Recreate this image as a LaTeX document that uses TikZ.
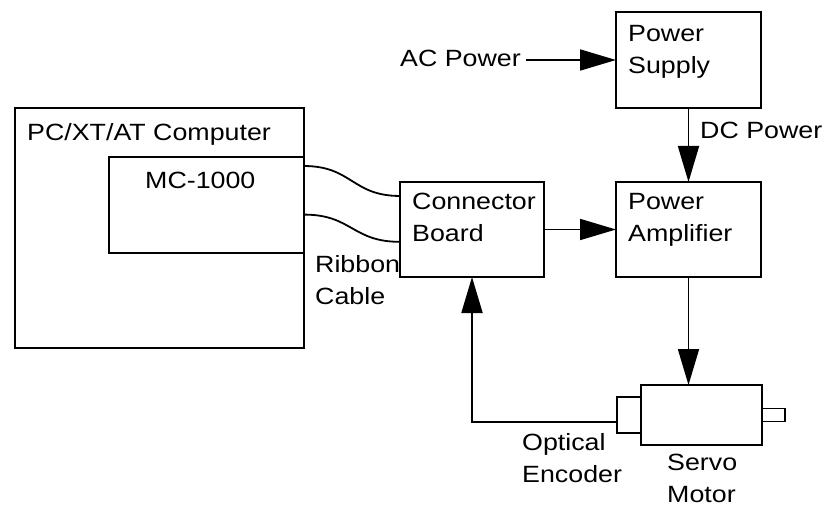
\documentclass[tikz,border=0pt]{standalone}
\usepackage{fontspec}
\setmainfont{Liberation Sans}[FakeStretch=1.14]
\usetikzlibrary{positioning,arrows.meta,calc}

\begin{document}
\begin{tikzpicture}[
    x=1pt, y=-1pt,
    font=\fontsize{23.5}{32}\selectfont,
    box/.style={draw, line width=1.8pt, inner sep=0pt, outer sep=0pt},
    txt/.style={anchor=north west, inner sep=0pt, align=left},
    arr/.style={-{Triangle[length=36pt, width=21pt]}, line width=1.8pt},
    wire/.style={line width=1.8pt},
]
\useasboundingbox (0,0) rectangle (828,508);

\node[box, minimum width=289pt, minimum height=240pt] (pc) at (159.5,228) {};
\node[box, minimum width=195pt, minimum height=96pt] (mc) at (206.5,205) {};
\node[box, minimum width=144pt, minimum height=95pt] (cb) at (472,229.5) {};
\node[box, minimum width=145pt, minimum height=96pt] (ps) at (688.5,60) {};
\node[box, minimum width=145pt, minimum height=95pt] (pa) at (688.5,229.5) {};
\node[box, minimum width=121pt, minimum height=60pt] (motor) at (701.5,415) {};
\node[box, minimum width=24pt, minimum height=36pt, left=0pt of motor] (enc) {};
\node[box, minimum width=23pt, minimum height=13pt, right=0pt of motor] (shaft) {};

\node[txt] (pctxt) at (27,123) {PC/XT/AT Computer};
\node[txt] (mctxt) at (145,172) {MC-1000};
\node[txt] (ribbon) at (315,255) {Ribbon\\Cable};
\node[txt] (ac) at (400,50) {AC Power};
\node[txt] (pstxt) at (628,25) {Power\\Supply};
\node[txt] (dc) at (700,122) {DC Power};
\node[txt] (cbtxt) at (412,193) {Connector\\Board};
\node[txt] (patxt) at (628,193) {Power\\Amplifier};
\node[txt] (optical) at (522,433) {Optical\\Encoder};
\node[txt] (servo) at (667,454) {Servo\\Motor};

\draw[wire] ($(mc.north east)!0.094!(mc.south east)$) .. controls +(48,0) and +(-48,0) .. ($(cb.north west)!0.147!(cb.south west)$);
\draw[wire] ($(mc.north east)!0.6!(mc.south east)$) .. controls +(48,0) and +(-48,0) .. ($(cb.north west)!0.63!(cb.south west)$);

\draw[arr] ($(ac.east |- ps.west)+(5,0)$) -- (ps.west);
\draw[arr] (ps) -- (pa);
\draw[arr] (cb) -- (pa);
\draw[arr] (pa.south) -- (pa.south |- motor.north);
\draw[arr] ($(enc.west)+(0,7)$) -| (cb.south);
\end{tikzpicture}
\end{document}
